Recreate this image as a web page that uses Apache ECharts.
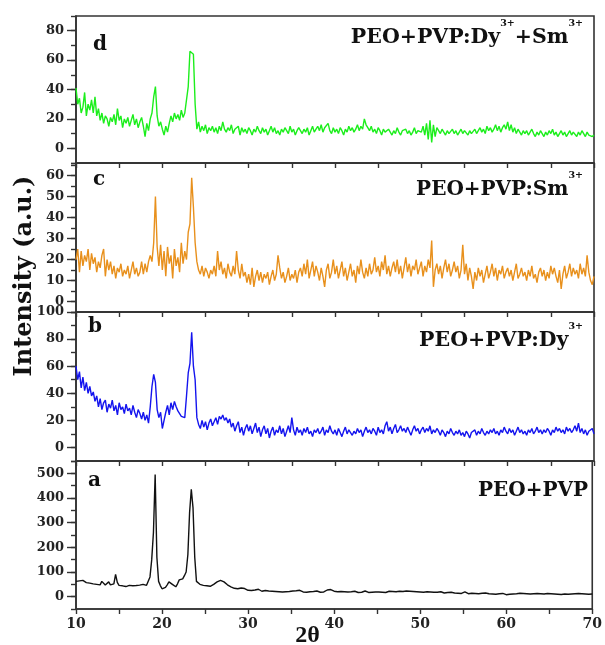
<!DOCTYPE html>
<html><head><meta charset="utf-8">
<script src="https://cdn.jsdelivr.net/npm/echarts@6/dist/echarts.min.js"></script>
<style>html,body{margin:0;padding:0;background:#fff}#c{width:605px;height:645px}</style>
</head><body><div id="c"></div>
<script>
// 2-theta sampling of the traces
const thetaStart = 10, thetaStep = 0.2;

// (d) PEO+PVP:Dy3+ + Sm3+
const intensityD = [
41,30,34,24,28,38,22,30,26,33,
24,35,22,27,19,24,17,22,20,15,
21,18,23,16,27,19,22,14,20,17,
21,15,19,23,16,20,14,18,21,15,
8,17,12,20,24,35,42,22,15,18,
13,9,15,11,17,22,18,24,20,23,
19,26,21,24,25,42,66,67,64,30,
13,18,11,15,12,16,10,14,12,15,
11,14,10,15,12,18,13,11,14,12,
16,10,13,12,15,9,14,11,13,10,
14,12,9,13,11,15,12,10,14,11,
13,9,12,15,11,14,10,12,9,13,
11,14,12,10,15,11,13,9,12,14,
12,10,13,11,14,9,12,15,11,13,
15,12,16,11,14,13,17,12,10,14,
11,13,10,14,12,9,13,11,15,12,
14,11,13,16,12,15,13,20,16,14,
12,15,11,13,10,14,12,9,13,11,
10,13,11,9,12,10,14,11,9,12,
11,13,10,12,9,11,14,10,12,13,
11,15,9,17,6,19,4,16,8,14,
12,10,13,11,9,12,10,11,13,10,
12,9,11,13,10,12,11,9,12,10,
11,13,10,12,14,11,13,10,15,12,
14,11,13,16,12,15,11,14,16,13,
18,12,16,11,14,10,13,11,9,12,
10,12,9,11,13,10,8,11,9,12,
10,8,11,9,12,10,13,9,11,8,
10,12,9,11,8,10,12,9,11,10,
8,11,9,12,10,8,11,9,10,8,
9];

// (c) PEO+PVP:Sm3+
const intensityC = [
20,25,14,24,17,22,19,25,15,23,
18,21,14,19,16,22,25,12,20,15,
19,13,17,11,16,14,18,12,15,13,
17,11,15,19,13,16,12,14,19,13,
18,14,19,22,19,28,50,26,17,27,
15,24,12,26,18,22,11,25,17,21,
14,28,18,24,20,33,37,59,45,28,
19,15,13,17,12,16,14,11,15,13,
17,12,24,15,19,13,16,11,18,14,
12,17,13,24,15,11,18,12,14,9,
13,8,16,7,12,15,10,14,9,13,
11,14,8,12,15,10,13,22,16,11,
14,9,12,16,10,13,11,15,9,14,
16,12,18,13,20,11,15,19,12,17,
14,10,16,12,7,15,18,11,14,20,
13,17,11,15,19,12,16,10,14,18,
12,15,9,17,13,20,14,11,16,12,
18,13,15,21,14,17,12,19,15,22,
13,17,12,16,19,14,20,13,17,11,
16,21,14,18,12,17,15,20,13,16,
19,12,17,14,20,16,29,7,15,18,
13,17,11,16,20,14,18,12,15,19,
14,17,11,15,27,13,18,10,16,12,
6,14,10,16,12,15,9,13,17,11,
14,18,12,16,10,15,13,17,11,14,
16,12,15,10,14,18,11,13,16,12,
14,10,15,12,17,11,13,9,14,16,
12,15,10,14,11,17,13,16,12,9,
15,6,13,17,11,14,18,12,16,13,
15,11,18,13,16,12,22,14,10,8,
12];

// (b) PEO+PVP:Dy3+
const intensityB = [
60,50,56,44,52,42,48,40,45,38,
41,34,38,30,36,28,33,35,26,32,
29,35,27,31,24,33,28,30,25,32,
27,29,24,31,26,22,28,25,21,26,
20,24,18,30,45,54,48,28,22,26,
14,20,26,31,24,33,28,34,30,27,
25,23,24,22,38,55,62,85,60,50,
22,17,14,20,15,19,13,18,21,16,
19,22,17,23,21,24,20,22,18,21,
15,18,12,16,19,11,15,9,14,17,
12,16,10,14,18,11,15,8,13,16,
10,14,7,12,15,9,13,11,16,10,
14,8,12,16,11,22,13,9,15,11,
13,9,14,11,15,10,12,8,13,11,
14,10,12,15,9,13,11,16,12,10,
13,9,14,11,8,12,15,10,13,11,
9,12,10,14,11,13,8,12,15,11,
13,10,14,12,9,15,11,13,10,16,
19,12,15,10,14,17,11,13,16,12,
14,11,15,12,9,13,16,12,14,10,
13,15,11,14,12,16,10,13,11,14,
12,9,13,11,8,12,10,14,11,9,
12,10,13,9,11,8,12,10,7,11,
10,13,9,12,10,14,11,9,12,10,
13,11,14,10,12,9,13,11,15,12,
10,14,11,13,9,12,15,11,13,10,
12,9,13,11,14,10,12,15,11,13,
10,13,11,14,12,9,13,11,15,12,
14,11,13,10,15,12,14,11,13,16,
12,18,11,14,10,13,9,12,11,14,
10];

// (a) PEO+PVP
const intensityA = [
62,58,64,60,66,63,57,61,55,58,
52,56,50,54,48,62,55,47,52,60,
48,42,52,90,58,46,40,44,38,41,
42,46,40,44,39,45,42,47,44,50,
42,46,52,80,150,260,495,160,62,45,
32,30,38,48,60,58,50,44,40,52,
68,62,72,85,100,170,340,435,360,160,
62,55,50,54,46,50,44,48,42,47,
50,56,60,62,66,64,60,56,48,42,
40,36,34,38,32,30,35,28,33,30,
26,32,25,29,27,24,30,26,22,28,
25,27,23,26,22,25,21,24,20,23,
19,22,20,24,21,25,23,27,24,22,
26,21,19,23,18,22,20,17,21,19,
23,20,18,22,19,24,27,25,29,26,
22,24,20,18,21,17,20,23,19,16,
20,18,22,19,17,21,18,20,23,19,
17,20,18,22,19,16,19,21,18,20,
17,19,22,18,21,24,20,18,22,25,
21,26,23,28,22,19,21,18,20,17,
19,22,18,16,20,17,19,21,18,15,
18,16,20,17,15,19,17,14,18,16,
15,18,14,17,13,16,19,15,12,16,
14,17,13,15,12,16,14,11,15,13,
12,15,11,14,10,13,12,9,13,11,
8,12,10,13,11,9,12,10,14,11,
13,10,12,9,11,14,12,10,13,11,
12,14,11,15,13,16,12,14,11,13,
10,12,9,13,11,12,10,13,11,9,
12,10,13,11,12,9,11,13,10,12,
11];

const panelLetters = ['d', 'c', 'b', 'a'];
const sampleBase = ['PEO+PVP:Dy', 'PEO+PVP:Sm', 'PEO+PVP:Dy', 'PEO+PVP'];
const xTickLabels = [10, 20, 30, 40, 50, 60, 70];
const yTickLabels = [
  [0, 20, 40, 60, 80],
  [0, 10, 20, 30, 40, 50, 60],
  [0, 20, 40, 60, 80, 100],
  [0, 100, 200, 300, 400, 500]
];
const yMinorStep = [10, 5, 10, 50];
const yMin = [-10, -5, -10, -50];
const yMax = [90, 66, 100, 550];

const series_ = [intensityD, intensityC, intensityB, intensityA];
const colors = ['#1cee1c', '#e8901c', '#1414ee', '#111111'];
const gridPos = [
  {top: 16, height: 147},
  {top: 163, height: 149},
  {top: 312, height: 149},
  {top: 461, height: 148}
];

const theta = intensityA.map((_, i) => +(thetaStart + i * thetaStep).toFixed(1));
const FONT = "'DejaVu Serif', serif";
const axisColor = '#333';

const grids = [], xAxes = [], yAxes = [], series = [];
for (let k = 0; k < 4; k++) {
  grids.push({left: 76, width: 518, top: gridPos[k].top, height: gridPos[k].height,
    show: true, borderColor: axisColor, borderWidth: 1.6, backgroundColor: 'transparent'});
  xAxes.push({
    type: 'value', gridIndex: k, min: 10, max: 70, interval: 5,
    axisLine: {show: true, onZero: false, lineStyle: {color: axisColor, width: 1.6}},
    axisTick: {show: true, inside: false, length: 5, lineStyle: {color: axisColor, width: 1.4}},
    axisLabel: {show: k === 3, customValues: xTickLabels, margin: 8,
      fontFamily: FONT, fontWeight: 'bold', fontSize: 14, color: '#222'},
    splitLine: {show: false}
  });
  yAxes.push({
    type: 'value', gridIndex: k, position: 'left', min: yMin[k], max: yMax[k], interval: yMinorStep[k],
    axisLine: {show: true, onZero: false, lineStyle: {color: axisColor, width: 1.6}},
    axisTick: {show: true, inside: false, length: 9, customValues: yTickLabels[k], lineStyle: {color: axisColor, width: 1.4}},
    axisLabel: {show: true, customValues: yTickLabels[k], margin: 12,
      fontFamily: FONT, fontWeight: 'bold', fontSize: 13, color: '#222'},
    splitLine: {show: false}
  });
  yAxes.push({
    type: 'value', gridIndex: k, position: 'left', offset: 0, min: yMin[k], max: yMax[k], interval: yMinorStep[k],
    axisLine: {show: false},
    axisTick: {show: true, inside: false, length: 5, lineStyle: {color: axisColor, width: 1.4}},
    axisLabel: {show: false},
    splitLine: {show: false}
  });
  series.push({
    type: 'line', xAxisIndex: k, yAxisIndex: 2 * k,
    data: theta.map((t, i) => [t, series_[k][i]]),
    showSymbol: false, symbol: 'none',
    lineStyle: {color: colors[k], width: 1.4}, itemStyle: {color: colors[k]},
    animation: false
  });
}

const letterPos = [[93, 45], [93, 180], [88, 327], [88, 481]];
const labelPos = [[583, 38], [583, 190], [583, 340.5], [588, 491]];
const labelFontSize = [20.5, 20, 20.5, 20];
const labelTexts = [
  '{m|' + sampleBase[0] + '}{s|3+}{m|+Sm}{s|3+}',
  '{m|' + sampleBase[1] + '}{s|3+}',
  '{m|' + sampleBase[2] + '}{s|3+}',
  '{m|' + sampleBase[3] + '}'
];

const graphic = [];
for (let k = 0; k < 4; k++) {
  graphic.push({type: 'text', x: letterPos[k][0], y: letterPos[k][1],
    style: {text: panelLetters[k], font: "bold 20px " + FONT, fill: '#111', textAlign: 'left', textVerticalAlign: 'middle'}});
  graphic.push({type: 'text', x: labelPos[k][0], y: labelPos[k][1],
    style: {text: labelTexts[k], textAlign: 'right', textVerticalAlign: 'middle',
      rich: {
        m: {fontFamily: FONT, fontWeight: 'bold', fontSize: labelFontSize[k], lineHeight: 38, fill: '#111'},
        s: {fontFamily: FONT, fontWeight: 'bold', fontSize: 9.5, lineHeight: 12, verticalAlign: 'top', fill: '#111'}
      }}});
}
graphic.push({type: 'text', x: 25, y: 276, rotation: Math.PI / 2,
  style: {text: 'Intensity (a.u.)', font: "bold 24px " + FONT, fill: '#111', textAlign: 'center', textVerticalAlign: 'middle'}});
graphic.push({type: 'text', x: 307.5, y: 636,
  style: {text: '2θ', font: "bold 24px 'Liberation Serif', serif", fill: '#111', textAlign: 'center', textVerticalAlign: 'middle'}});

const chart = echarts.init(document.getElementById('c'), null, {renderer: 'canvas'});
chart.setOption({
  animation: false,
  backgroundColor: '#fff',
  grid: grids, xAxis: xAxes, yAxis: yAxes, series: series, graphic: graphic
});
</script></body></html>
